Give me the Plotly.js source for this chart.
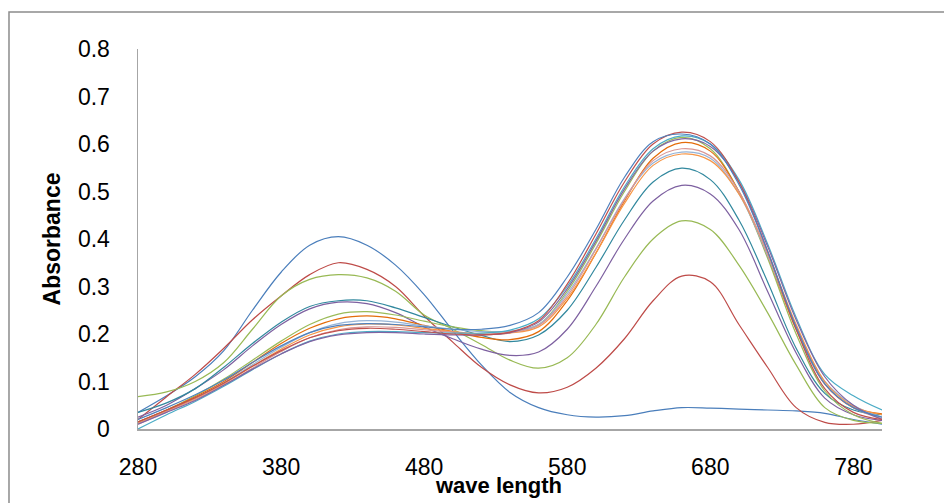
<!DOCTYPE html>
<html>
<head>
<meta charset="utf-8">
<script src="https://cdn.plot.ly/plotly-3.0.1.min.js"></script>
<style>html,body{margin:0;padding:0;background:#fff;}#chart{width:944px;height:503px;}</style>
</head>
<body>
<div id="chart"></div>
<script>
const wavelength = [280,300,320,340,360,380,400,420,440,460,480,500,520,540,560,580,600,620,640,660,680,700,720,740,760,780,800];

const s1  = [0.035,0.07,0.11,0.165,0.25,0.33,0.387,0.405,0.387,0.345,0.283,0.207,0.135,0.077,0.045,0.03,0.025,0.028,0.038,0.045,0.044,0.042,0.04,0.038,0.033,0.02,0.01];
const s2  = [0.02,0.068,0.115,0.17,0.23,0.28,0.325,0.35,0.336,0.3,0.238,0.183,0.13,0.093,0.076,0.088,0.128,0.19,0.27,0.322,0.31,0.22,0.13,0.045,0.014,0.01,0.018];
const s3  = [0.068,0.078,0.1,0.14,0.21,0.28,0.315,0.325,0.318,0.29,0.24,0.21,0.178,0.145,0.128,0.15,0.22,0.32,0.4,0.438,0.42,0.345,0.245,0.135,0.045,0.018,0.012];
const s4  = [0.025,0.05,0.085,0.125,0.175,0.22,0.253,0.267,0.264,0.245,0.215,0.19,0.168,0.155,0.162,0.21,0.3,0.4,0.48,0.513,0.495,0.42,0.29,0.16,0.065,0.03,0.018];
const s5  = [0.035,0.055,0.085,0.13,0.18,0.225,0.258,0.27,0.27,0.255,0.235,0.215,0.197,0.184,0.198,0.25,0.34,0.44,0.52,0.549,0.525,0.44,0.31,0.17,0.075,0.04,0.03];
const s6  = [0.015,0.04,0.07,0.105,0.145,0.185,0.22,0.242,0.247,0.24,0.227,0.215,0.207,0.205,0.22,0.29,0.39,0.5,0.585,0.614,0.59,0.5,0.36,0.2,0.08,0.03,0.012];
const s7  = [0.015,0.04,0.068,0.1,0.14,0.18,0.212,0.232,0.238,0.232,0.218,0.205,0.193,0.188,0.205,0.27,0.37,0.48,0.57,0.603,0.585,0.5,0.365,0.21,0.095,0.045,0.032];
const s8  = [0.012,0.038,0.065,0.097,0.135,0.172,0.203,0.222,0.228,0.225,0.217,0.21,0.205,0.206,0.22,0.285,0.38,0.485,0.56,0.583,0.57,0.495,0.365,0.215,0.1,0.05,0.025];
const s9  = [0.012,0.038,0.064,0.095,0.132,0.168,0.198,0.215,0.221,0.219,0.212,0.205,0.2,0.202,0.215,0.275,0.37,0.475,0.555,0.579,0.565,0.495,0.37,0.22,0.1,0.048,0.03];
const s10 = [0.01,0.036,0.062,0.093,0.128,0.163,0.192,0.209,0.215,0.214,0.209,0.204,0.2,0.203,0.218,0.28,0.378,0.483,0.565,0.59,0.575,0.5,0.37,0.215,0.095,0.045,0.022];
const s11 = [0.0,0.03,0.058,0.09,0.125,0.158,0.185,0.2,0.205,0.205,0.203,0.202,0.202,0.208,0.232,0.3,0.4,0.51,0.59,0.617,0.6,0.525,0.39,0.235,0.115,0.07,0.04];
const s12 = [0.01,0.035,0.06,0.092,0.126,0.158,0.184,0.198,0.203,0.203,0.2,0.198,0.198,0.203,0.225,0.295,0.395,0.505,0.585,0.611,0.595,0.52,0.385,0.23,0.11,0.05,0.02];
const s13 = [0.015,0.04,0.066,0.097,0.132,0.165,0.192,0.207,0.212,0.21,0.205,0.2,0.198,0.204,0.228,0.305,0.41,0.52,0.6,0.625,0.605,0.52,0.375,0.21,0.085,0.035,0.02];
const s14 = [0.02,0.045,0.072,0.103,0.14,0.175,0.203,0.218,0.222,0.22,0.215,0.21,0.21,0.218,0.245,0.32,0.42,0.53,0.605,0.621,0.6,0.515,0.375,0.215,0.095,0.045,0.025];

const seriesList = [s1,s2,s3,s4,s5,s6,s7,s8,s9,s10,s11,s12,s13,s14];
const colors = ['#4A7EBB','#BE4B48','#98B954','#7D60A0','#31889E','#9BBB59','#E46C0A','#95B3D7','#F79646','#D99694','#4BACC6','#8064A2','#C0504D','#4F81BD'];
const xTicks = [280,380,480,580,680,780];

const traces = seriesList.map((ys, i) => ({
  x: wavelength, y: ys, type: 'scatter', mode: 'lines',
  line: {color: colors[i], width: 1.2, shape: 'spline', smoothing: 1},
  name: 'Series' + (i+1), hoverinfo: 'skip'
}));

const tickFont = {family: 'Liberation Sans, Arial, sans-serif', size: 23, color: '#000'};
const layout = {
  width: 944, height: 503,
  margin: {l: 138, r: 62, t: 49, b: 74},
  paper_bgcolor: '#fff', plot_bgcolor: '#fff',
  showlegend: false,
  xaxis: {
    range: [280, 800], tickvals: xTicks, ticktext: xTicks.map(String),
    showgrid: false, zeroline: false, showline: true, linecolor: '#A6A6A6', linewidth: 2,
    ticks: '', tickfont: tickFont, ticklabelstandoff: 16
  },
  yaxis: {
    range: [0, 0.8], dtick: 0.1, tick0: 0,
    showgrid: false, zeroline: false, showline: true, linecolor: '#A6A6A6', linewidth: 1.5,
    ticks: '', tickfont: tickFont, ticklabelstandoff: 22,
    title: {text: '<b>Absorbance</b>', font: {family: 'Liberation Sans, Arial, sans-serif', size: 23, color: '#000'}, standoff: 11}
  },
  annotations: [{
    text: '<b>wave length</b>', xref: 'paper', yref: 'paper',
    x: 0.485, y: -0.1474, xanchor: 'center', yanchor: 'middle', showarrow: false,
    font: {family: 'Liberation Sans, Arial, sans-serif', size: 22, color: '#000'}
  }],
  shapes: [{
    type: 'rect', xref: 'paper', yref: 'paper',
    x0: -0.1734, x1: 1.2, y0: -0.3, y1: 1.0974,
    line: {color: '#8C8C8C', width: 1.5}, fillcolor: 'rgba(0,0,0,0)', layer: 'below'
  }]
};

Plotly.newPlot('chart', traces, layout, {staticPlot: true, displayModeBar: false});
</script>
</body>
</html>
